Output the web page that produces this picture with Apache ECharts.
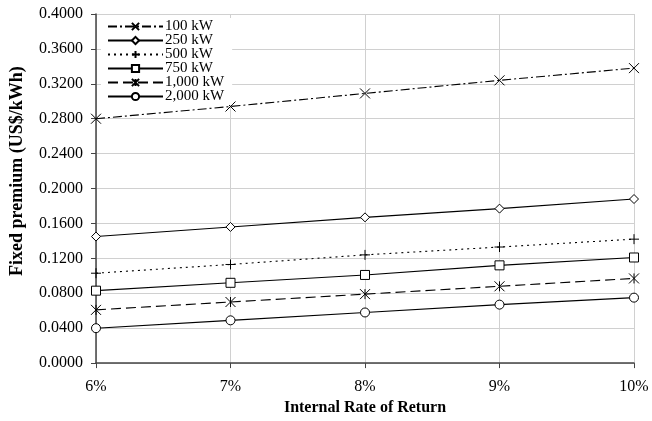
<!DOCTYPE html>
<html>
<head>
    <meta charset="utf-8"/>
    <style>
        html, body { height: 100%; margin: 0; padding: 0; background: #ffffff; }
        .container { width: 652px; height: 421px; }
    </style>
</head>
<body>
<div id="main" class="container"></div>
<script src="https://cdn.jsdelivr.net/npm/echarts@6/dist/echarts.min.js"></script>
<script type="text/javascript">
    // chart data
    var categories = ['6%', '7%', '8%', '9%', '10%'];
    var seriesNames = ['100 kW', '250 kW', '500 kW', '750 kW', '1,000 kW', '2,000 kW'];
    var kw100 = [0.280, 0.294, 0.309, 0.324, 0.338];
    var kw250 = [0.145, 0.156, 0.167, 0.177, 0.188];
    var kw500 = [0.103, 0.113, 0.124, 0.133, 0.142];
    var kw750 = [0.083, 0.092, 0.101, 0.112, 0.121];
    var kw1000 = [0.061, 0.070, 0.079, 0.088, 0.097];
    var kw2000 = [0.040, 0.049, 0.058, 0.067, 0.075];
    var yTicks = ['0.0000', '0.0400', '0.0800', '0.1200', '0.1600', '0.2000', '0.2400', '0.2800', '0.3200', '0.3600', '0.4000'];

    var font = 'Liberation Serif';
    var crossPath = 'path://M0,0L10,10M10,0L0,10';
    var plusPath = 'path://M5,0L5,10M0,5L10,5';
    var starPath = 'path://M0,0L10,10M10,0L0,10M5,0L5,10';

    // one line style per series
    function makeSeries(name, data, symbol, size, dash) {
        var strokeOnly = symbol.indexOf('path://') === 0;
        return {
            name: name,
            type: 'line',
            data: data,
            symbol: symbol,
            symbolSize: size,
            showAllSymbol: true,
            animation: false,
            lineStyle: { color: '#000000', width: 1.1, type: dash },
            itemStyle: {
                color: strokeOnly ? 'none' : '#ffffff',
                borderColor: '#000000',
                borderWidth: 1
            }
        };
    }

    var myChart = echarts.init(document.getElementById('main'));
    var option = {
        backgroundColor: '#ffffff',
        animation: false,
        textStyle: { fontFamily: font },
        grid: { left: 95, right: 18, top: 14, bottom: 55, containLabel: false },
        legend: {
            orient: 'vertical',
            left: 101,
            top: 18,
            itemWidth: 55,
            itemHeight: 9,
            itemGap: -1,
            backgroundColor: '#ffffff',
            padding: [1, 8, 1, 6],
            textStyle: { fontFamily: font, fontSize: 15, lineHeight: 14, color: '#000000', padding: [0, 0, 0, -3] },
            data: seriesNames
        },
        xAxis: {
            type: 'category',
            data: categories,
            boundaryGap: false,
            name: 'Internal Rate of Return',
            nameLocation: 'middle',
            nameGap: 36,
            nameTextStyle: { fontFamily: font, fontSize: 16, fontWeight: 'bold', color: '#000000' },
            axisLine: { lineStyle: { color: '#444444', width: 1.5 } },
            axisTick: { show: true, alignWithLabel: true, length: 5, lineStyle: { color: '#444444' } },
            axisLabel: { fontFamily: font, fontSize: 16, color: '#000000', margin: 16 },
            splitLine: { show: true, lineStyle: { color: '#d0d0d0' } }
        },
        yAxis: {
            type: 'value',
            min: 0,
            max: 0.4,
            interval: 0.04,
            name: 'Fixed premium (US$/kWh)',
            nameLocation: 'middle',
            nameGap: 70,
            nameTextStyle: { fontFamily: font, fontSize: 18, fontWeight: 'bold', color: '#000000', padding: [0, 0, 0, 35] },
            axisLine: { show: true, lineStyle: { color: '#444444', width: 1.5 } },
            axisTick: { show: true, length: 5, lineStyle: { color: '#444444' } },
            axisLabel: {
                fontFamily: font, fontSize: 16, color: '#000000', margin: 13,
                formatter: function (v) { return yTicks[Math.round(v / 0.04)]; }
            },
            splitLine: { show: true, lineStyle: { color: '#d0d0d0' } }
        },
        series: [
            makeSeries(seriesNames[0], kw100, crossPath, 10, [9, 3, 2, 3]),
            makeSeries(seriesNames[1], kw250, 'diamond', 9, 'solid'),
            makeSeries(seriesNames[2], kw500, plusPath, 10, [2, 4]),
            makeSeries(seriesNames[3], kw750, 'rect', 9, 'solid'),
            makeSeries(seriesNames[4], kw1000, starPath, 10, [10, 5]),
            makeSeries(seriesNames[5], kw2000, 'circle', 9, 'solid')
        ]
    };
    myChart.setOption(option);
</script>
</body>
</html>
